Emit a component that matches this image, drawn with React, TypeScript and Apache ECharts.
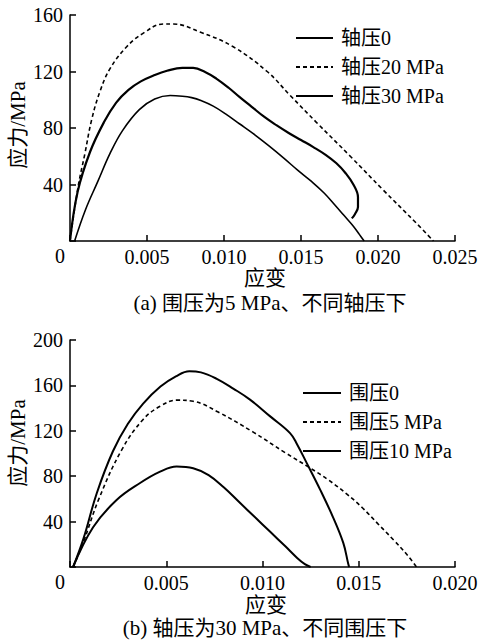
import React, { useEffect, useRef } from "react";
import * as echarts from "echarts";

const FONT = "'Liberation Serif', 'Noto Sans CJK SC', serif";

// Chart (a)
const namesA = ["轴压0", "轴压20 MPa", "轴压30 MPa"];
const axial0: number[][] = [
  [0, 0], [0.0005, 35], [0.0013, 63], [0.0022, 84], [0.003, 98], [0.0038, 107],
  [0.0046, 113], [0.0055, 117.5], [0.0063, 120.5], [0.0073, 122.5], [0.008, 122.5],
  [0.0088, 119.5], [0.0095, 115], [0.0103, 108.5], [0.011, 102], [0.0118, 95],
  [0.0126, 88], [0.0134, 82], [0.0142, 76.5], [0.015, 71.5], [0.0158, 66.5],
  [0.0166, 61], [0.0173, 55], [0.0179, 48], [0.0184, 40], [0.0187, 31],
  [0.0187, 24], [0.0185, 19], [0.0183, 16],
];
const axial20: number[][] = [
  [0, 0], [0.00052, 38], [0.00097, 62], [0.00141, 86], [0.00195, 106], [0.0026, 122],
  [0.00368, 137.5], [0.00474, 147], [0.00606, 153.6], [0.0067, 153.6], [0.00844, 148],
  [0.0106, 137.5], [0.0128, 120], [0.0143, 103], [0.016, 84], [0.0182, 60],
  [0.0203, 36.5], [0.0225, 12.5], [0.0236, 0],
];
const axial30: number[][] = [
  [0.0003, 0], [0.001, 22], [0.0018, 42], [0.0026, 62], [0.0034, 78], [0.0045, 93],
  [0.0055, 100.5], [0.0065, 103], [0.0073, 102.5], [0.0079, 101.5], [0.0085, 99.5],
  [0.0093, 95.5], [0.0101, 90], [0.011, 83], [0.0119, 76], [0.0129, 67.5],
  [0.0139, 58.5], [0.0148, 50], [0.0157, 42], [0.0165, 34], [0.0172, 25.5],
  [0.0178, 18], [0.0184, 10.5], [0.0188, 4.5], [0.0191, 0],
];

// Chart (b)
const namesB = ["围压0", "围压5 MPa", "围压10 MPa"];
const conf0: number[][] = [
  [0.00016, 0], [0.0007, 25], [0.00139, 65], [0.00223, 102], [0.003, 126],
  [0.0038, 144], [0.0047, 159], [0.0055, 168], [0.0062, 172.5], [0.0068, 171.5],
  [0.0076, 166], [0.0085, 157], [0.00935, 147.5], [0.0104, 132.7], [0.01143, 118],
  [0.0118, 108], [0.0123, 91.5], [0.013, 68], [0.01366, 44], [0.0142, 21],
  [0.01445, 3], [0.0145, 0],
];
const conf5: number[][] = [
  [0.00016, 0], [0.0007, 22], [0.0015, 60], [0.00268, 103], [0.0038, 130],
  [0.00468, 141.6], [0.00554, 147], [0.0064, 146], [0.0077, 136.5], [0.0095, 119],
  [0.0112, 100.5], [0.0124, 88], [0.0134, 77], [0.0144, 64], [0.0152, 52],
  [0.016, 38], [0.0168, 24], [0.0175, 11], [0.018, 0],
];
const conf10: number[][] = [
  [0.00016, 0], [0.0012, 35], [0.00242, 59], [0.00364, 74], [0.00468, 84],
  [0.00554, 88.5], [0.0064, 87], [0.0072, 81], [0.008, 70], [0.0088, 57],
  [0.0096, 44], [0.0104, 31], [0.0112, 18], [0.0118, 8], [0.0122, 2.5], [0.0125, 0],
];

const xTickFmt = (v: number) => (v === 0 ? "" : v.toFixed(3));
const yTickFmt = (v: number) => (v === 0 ? "" : String(v));

export default function App() {
  const ref = useRef<HTMLDivElement>(null);
  useEffect(() => {
    if (!ref.current) return;
    const chart = echarts.init(ref.current, null, { renderer: "svg" });
    const axisLine = { show: true, onZero: false, lineStyle: { color: "#000", width: 1.5 } };
    const axisTick = { show: true, inside: true, length: 6, lineStyle: { color: "#000", width: 1.5 } };
    const axisLabel = (fmt: any, margin: number) => ({
      color: "#000", fontSize: 20, fontFamily: FONT, margin, formatter: fmt,
    });
    const mkX = (gi: number, max: number) => ({
      type: "value", gridIndex: gi, min: 0, max, interval: 0.005,
      axisLine, axisTick, splitLine: { show: false },
      axisLabel: axisLabel(xTickFmt, 6),
    });
    const mkY = (gi: number, max: number) => ({
      type: "value", gridIndex: gi, min: 0, max, interval: 40,
      axisLine, axisTick, splitLine: { show: false },
      axisLabel: axisLabel(yTickFmt, 7),
    });
    const line = (name: string, data: number[][], gi: number, dashed: boolean, width: number) => ({
      type: "line", name, data, xAxisIndex: gi, yAxisIndex: gi,
      showSymbol: false, symbol: "none", smooth: 0.4,
      lineStyle: { color: "#000", width, type: dashed ? [4, 3] : "solid" },
      itemStyle: { color: "#000" },
    });
    const legend = (data: string[], left: number, top: number, w: number) => ({
      data, orient: "vertical", left, top, itemWidth: w, itemHeight: 14, itemGap: 9,
      itemStyle: { opacity: 0 },
      textStyle: { color: "#000", fontSize: 20, fontFamily: FONT, padding: [0, 0, 0, 3] },
      selectedMode: false,
    });
    const txt = (text: string, x: number, y: number, rot = 0, size = 20) => ({
      type: "text", x, y, rotation: rot,
      style: { text, fill: "#000", font: `${size}px ${FONT}`, align: "center", verticalAlign: "middle" },
    });
    chart.setOption({
      animation: false,
      backgroundColor: "#fff",
      grid: [
        { left: 70, top: 15, width: 385, height: 226 },
        { left: 70, top: 340, width: 385, height: 227 },
      ],
      xAxis: [mkX(0, 0.025), mkX(1, 0.02)],
      yAxis: [mkY(0, 160), mkY(1, 200)],
      legend: [legend(namesA, 290, 23, 37), legend(namesB, 297, 378, 38)],
      series: [
        line(namesA[0], axial0, 0, false, 2.2),
        line(namesA[1], axial20, 0, true, 1.6),
        line(namesA[2], axial30, 0, false, 1.6),
        line(namesB[0], conf0, 1, false, 2),
        line(namesB[1], conf5, 1, true, 1.6),
        line(namesB[2], conf10, 1, false, 2),
      ],
      graphic: [
        txt("0", 60, 256),
        txt("0", 60, 582),
        txt("应变", 265, 278, 0, 21),
        txt("应变", 266, 605, 0, 21),
        txt("(a) 围压为5 MPa、不同轴压下", 270, 303, 0, 21),
        txt("(b) 轴压为30 MPa、不同围压下", 265, 628, 0, 21),
        txt("应力/MPa", 18, 125, Math.PI / 2, 21),
        txt("应力/MPa", 18, 443, Math.PI / 2, 21),
      ],
    });
    return () => chart.dispose();
  }, []);
  return (
    <div
      ref={ref}
      style={{ position: "absolute", left: 0, top: 0, width: 481, height: 641, background: "#fff" }}
    />
  );
}
